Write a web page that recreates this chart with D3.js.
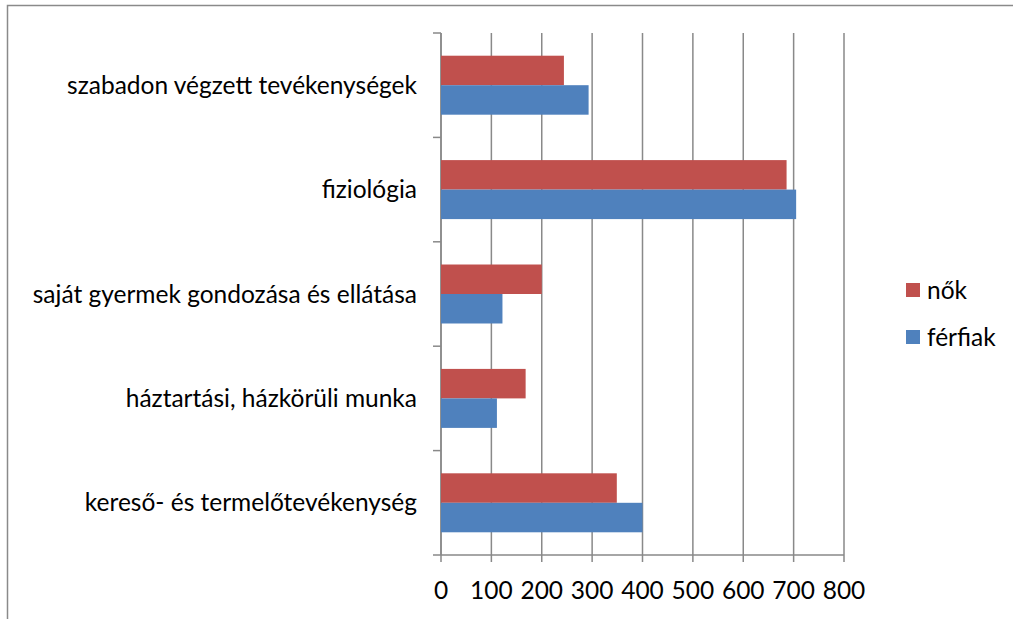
<!DOCTYPE html>
<html>
<head>
<meta charset="utf-8">
<script src="https://cdn.jsdelivr.net/npm/d3@7"></script>
<style>
  body { margin: 0; background: #fff; }
  svg text { font-family: Lato, "Open Sans", sans-serif; fill: #000; }
</style>
</head>
<body>
<div id="chart"></div>
<script>
// data, top to bottom as in the picture
var categories = ["szabadon végzett tevékenységek", "fiziológia", "saját gyermek gondozása és ellátása", "háztartási, házkörüli munka", "kereső- és termelőtevékenység"]
var series = ["nők", "férfiak"]
var nok = [244, 686, 200, 168, 349]
var ferfiak = [293, 705, 122, 111, 400]
var xTicks = [0, 100, 200, 300, 400, 500, 600, 700, 800]
var colors = ["#C0504D", "#4F81BD"]

var width = 1013,
height = 619,
margin = {top: 33, bottom: 64, left: 441, right: 169},
fontSize = "24.5px"

var svg = d3.select("#chart")
	.append("svg")
	.attr("width", width)
	.attr("height", height)

// outer frame (only top and left edges visible)
svg.append("path")
	.attr("d", "M7.5,619 L7.5,5.5 L1013,5.5")
	.attr("fill", "none")
	.attr("stroke", "#8a8a8a")
	.attr("stroke-width", 1.5)

var x = d3.scaleLinear()
	.domain([0, 800])
	.range([margin.left, width - margin.right])

var y = d3.scaleBand()
	.domain(categories)
	.range([margin.top, height - margin.bottom])
	.paddingInner(0.435)
	.paddingOuter(0.2175)

var ySub = d3.scaleBand()
	.domain(series)
	.range([0, y.bandwidth()])

// gridlines
svg.append("g")
	.selectAll("line")
	.data(xTicks)
	.enter().append("line")
	  .attr("x1", function(d) { return x(d); })
	  .attr("x2", function(d) { return x(d); })
	  .attr("y1", margin.top)
	  .attr("y2", height - margin.bottom + 7)
	  .attr("stroke", "#898989")
	  .attr("stroke-width", 1.5)

// y axis line and category ticks
var yTop = margin.top, yBot = height - margin.bottom
svg.append("line")
	.attr("x1", x(0)).attr("x2", x(0))
	.attr("y1", yTop).attr("y2", yBot)
	.attr("stroke", "#898989").attr("stroke-width", 1.5)
svg.append("line")
	.attr("x1", x(0)).attr("x2", x(800))
	.attr("y1", yBot).attr("y2", yBot)
	.attr("stroke", "#898989").attr("stroke-width", 1.5)

svg.append("g")
	.selectAll("line")
	.data(d3.range(categories.length + 1))
	.enter().append("line")
	  .attr("x1", x(0) - 8)
	  .attr("x2", x(0))
	  .attr("y1", function(i) { return yTop + i * (yBot - yTop) / categories.length; })
	  .attr("y2", function(i) { return yTop + i * (yBot - yTop) / categories.length; })
	  .attr("stroke", "#898989")
	  .attr("stroke-width", 1.5)

// bars
var rows = categories.map(function(c, i) { return {cat: c, values: [nok[i], ferfiak[i]]}; })

var groups = svg.append("g")
	.selectAll("g")
	.data(rows)
	.enter().append("g")
	  .attr("transform", function(d) { return "translate(0," + y(d.cat) + ")"; })

groups.selectAll("rect")
	.data(function(d) { return d.values.map(function(v, j) { return {s: series[j], v: v, j: j}; }); })
	.enter().append("rect")
	  .attr("x", x(0))
	  .attr("y", function(d) { return ySub(d.s); })
	  .attr("width", function(d) { return x(d.v) - x(0); })
	  .attr("height", ySub.bandwidth())
	  .attr("fill", function(d) { return colors[d.j]; })

// category labels
svg.append("g")
	.selectAll("text")
	.data(categories)
	.enter().append("text")
	  .attr("x", 417)
	  .attr("y", function(d) { return y(d) + y.bandwidth() / 2; })
	  .attr("dy", "0.35em")
	  .attr("text-anchor", "end")
	  .style("font-size", fontSize)
	  .text(function(d) { return d; })

// x tick labels
svg.append("g")
	.selectAll("text")
	.data(xTicks)
	.enter().append("text")
	  .attr("x", function(d) { return x(d); })
	  .attr("y", 590)
	  .attr("dy", "0.35em")
	  .attr("text-anchor", "middle")
	  .style("font-size", fontSize)
	  .text(function(d) { return d; })

// legend
var legend = svg.append("g")
	.selectAll("g")
	.data(series)
	.enter().append("g")
	  .attr("transform", function(d, i) { return "translate(906," + (283 + i * 47) + ")"; })
legend.append("rect")
	.attr("width", 14)
	.attr("height", 14)
	.attr("fill", function(d, i) { return colors[i]; })
legend.append("text")
	.attr("x", 21)
	.attr("y", 7)
	.attr("dy", "0.35em")
	.style("font-size", fontSize)
	.text(function(d) { return d; })
</script>
</body>
</html>
